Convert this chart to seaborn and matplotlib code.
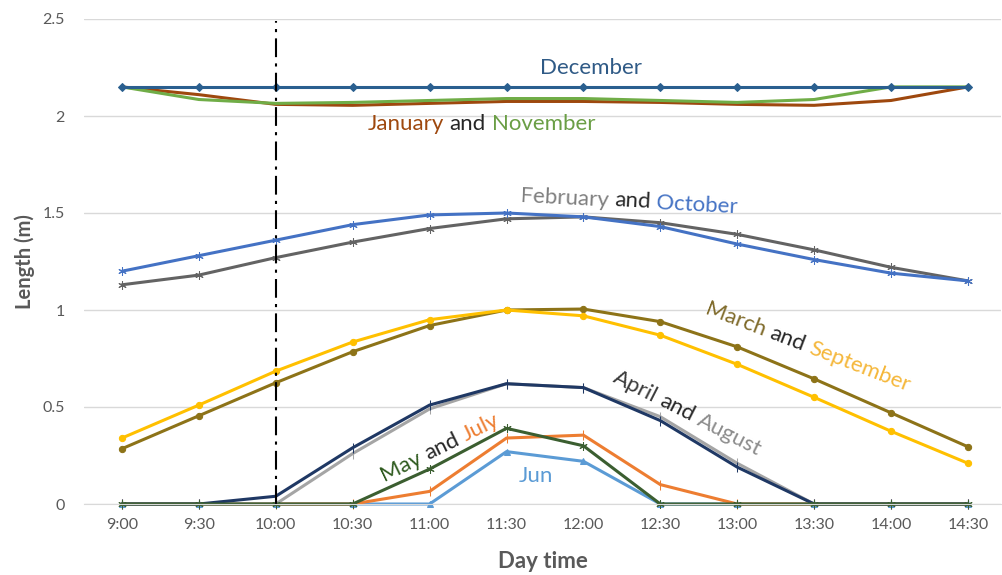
import numpy as np
import pandas as pd
import matplotlib
matplotlib.use("Agg")
import matplotlib.pyplot as plt
from matplotlib.transforms import IdentityTransform
import seaborn as sns

times = ["9:00", "9:30", "10:00", "10:30", "11:00", "11:30",
         "12:00", "12:30", "13:00", "13:30", "14:00", "14:30"]

january = [2.15, 2.11, 2.06, 2.055, 2.065, 2.075, 2.075, 2.07, 2.06, 2.055, 2.08, 2.15]
february = [1.13, 1.18, 1.27, 1.35, 1.42, 1.47, 1.48, 1.45, 1.39, 1.31, 1.22, 1.15]
march = [0.285, 0.455, 0.625, 0.785, 0.92, 1.00, 1.005, 0.94, 0.81, 0.645, 0.47, 0.295]
april = [0, 0, 0.04, 0.29, 0.51, 0.62, 0.60, 0.43, 0.19, 0, 0, 0]
may = [0, 0, 0, 0, 0.18, 0.39, 0.30, 0, 0, 0, 0, 0]
june = [0, 0, 0, 0, 0, 0.27, 0.22, 0, 0, 0, 0, 0]
july = [0, 0, 0, 0, 0.065, 0.34, 0.355, 0.10, 0, 0, 0, 0]
august = [0, 0, 0, 0.26, 0.49, 0.62, 0.60, 0.45, 0.21, 0, 0, 0]
september = [0.34, 0.51, 0.685, 0.835, 0.95, 1.00, 0.97, 0.87, 0.72, 0.55, 0.375, 0.21]
october = [1.20, 1.28, 1.36, 1.44, 1.49, 1.50, 1.48, 1.43, 1.34, 1.26, 1.19, 1.15]
november = [2.15, 2.085, 2.065, 2.07, 2.08, 2.09, 2.09, 2.08, 2.07, 2.085, 2.15, 2.15]
december = [2.15, 2.15, 2.15, 2.15, 2.15, 2.15, 2.15, 2.15, 2.15, 2.15, 2.15, 2.15]

# (name, values, colour, marker, marker size) in drawing order
series = [
    ("January", january, "#9E480E", "D", 0),
    ("February", february, "#636363", (6, 2, 0), 6),
    ("March", march, "#8D7318", "o", 4.5),
    ("June", june, "#5B9BD5", "^", 5),
    ("July", july, "#ED7D31", "|", 7),
    ("August", august, "#A5A5A5", "|", 7),
    ("April", april, "#1F3864", "|", 7),
    ("May", may, "#3B5E30", (6, 2, 0), 6),
    ("September", september, "#FFC000", "o", 4.5),
    ("October", october, "#4472C4", (6, 2, 0), 6),
    ("November", november, "#70AD47", "D", 0),
    ("December", december, "#2A5F8F", "D", 4.5),
]

sns.set_style("white")
plt.rcParams["font.family"] = ["Lato", "DejaVu Sans"]

fig = plt.figure(figsize=(10.02, 5.75), dpi=100)
ax = fig.add_axes([84 / 1002, 71 / 575, (1001 - 84) / 1002, (504 - 19) / 575])

for name, vals, col, mk, ms in series:
    df = pd.DataFrame({"time": times, "length": vals})
    kw = dict(marker=mk, markersize=ms, markeredgecolor=col, markerfacecolor=col)
    if ms == 0:
        kw = dict(marker=None)
    sns.lineplot(data=df, x="time", y="length", color=col, lw=2.2, ax=ax,
                 sort=False, clip_on=False, **kw)

ax.axvline(times.index("10:00"), ymin=0, ymax=0.995, color="black", lw=1.5,
           dashes=(9, 3, 1.5, 3))

ax.set_xlim(-0.494, 11.43)
ax.set_ylim(0, 2.5)
ax.set_yticks([0, 0.5, 1, 1.5, 2, 2.5])
ax.set_yticklabels(["0", "0.5", "1", "1.5", "2", "2.5"])
ax.grid(axis="y", color="#D9D9D9", lw=1)
ax.grid(axis="x", visible=False)
for s in ["top", "right", "left"]:
    ax.spines[s].set_visible(False)
ax.spines["bottom"].set_color("#D9D9D9")
ax.tick_params(axis="both", length=0, labelsize=11.5, colors="#595959")
ax.tick_params(axis="y", pad=14)
ax.tick_params(axis="x", pad=10)
ax.set_xlabel("Day time", fontsize=16, fontweight="bold", color="#595959", labelpad=14)
ax.set_ylabel("Length (m)", fontsize=14.5, fontweight="bold", color="#595959", labelpad=5)

renderer = fig.canvas.get_renderer()


def words(x, y, parts, rot=0, size=16, gap=6):
    # lay out coloured words one after another along a rotated baseline
    sx, sy = ax.transData.transform((x, y))
    a = np.deg2rad(rot)
    d = 0
    for w, c in parts:
        t = fig.text(0, 0, w, fontsize=size)
        width = t.get_window_extent(renderer).width
        t.remove()
        fig.text(sx + d * np.cos(a), sy + d * np.sin(a), w, color=c, fontsize=size,
                 rotation=rot, rotation_mode="anchor", ha="left", va="center",
                 transform=IdentityTransform())
        d += width + gap


AND = "#262626"
ax.text(6.10, 2.25, "December", color="#2F5A86", fontsize=16, ha="center", va="center")
words(3.19, 1.96, [("January", "#9E480E"), ("and", AND), ("November", "#6A9E45")])
words(5.18, 1.59, [("February", "#7F7F7F"), ("and", AND), ("October", "#4472C4")], rot=-3)
words(7.59, 1.01, [("March", "#7F6A2A"), ("and", AND), ("September", "#F5B73A")], rot=-21)
words(6.40, 0.66, [("April", "#3A3A3A"), ("and", AND), ("August", "#8C8C8C")], rot=-27)
words(3.37, 0.144, [("May", "#2E5A1E"), ("and", AND), ("July", "#ED7D31")], rot=26)
ax.text(5.38, 0.144, "Jun", color="#5B9BD5", fontsize=16, ha="center", va="center")

fig.savefig("out.png", dpi=100)
